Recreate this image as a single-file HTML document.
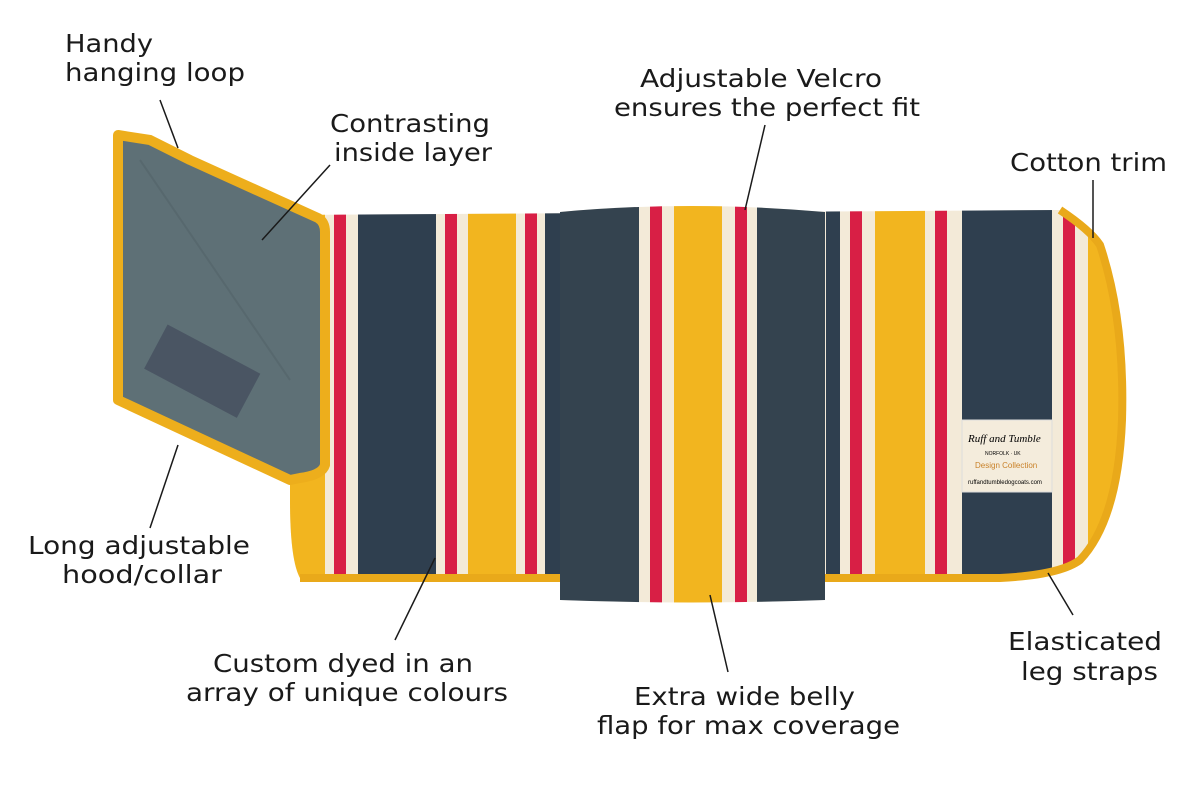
<!DOCTYPE html>
<html><head><meta charset="utf-8">
<style>
html,body{margin:0;padding:0;background:#fff;}
svg{display:block}
text.l{font-family:"DejaVu Sans",sans-serif;font-size:25px;fill:#1a1a1a}
</style></head>
<body>
<svg width="1200" height="793" viewBox="0 0 1200 793" xmlns="http://www.w3.org/2000/svg">
<defs>
<clipPath id="body">
<path d="M290 215 L1060 210 Q1090 230 1100 245 Q1125 320 1122 420 Q1118 520 1080 560 Q1060 575 1000 578 L300 578 Q290 560 290 500 Z"/>
</clipPath>
<clipPath id="flap">
<path d="M560 212 Q690 200 825 212 L825 600 Q690 605 560 600 Z"/>
</clipPath>
</defs>
<g clip-path="url(#body)">
<rect x="280" y="200" width="860" height="400" fill="#f3ead8"/>
<rect x="280" y="200" width="45" height="400" fill="#f2b51f"/>
<rect x="334" y="200" width="12" height="400" fill="#d81f45"/>
<rect x="358" y="200" width="78" height="400" fill="#2f3f4f"/>
<rect x="445" y="200" width="12" height="400" fill="#d81f45"/>
<rect x="468" y="200" width="48" height="400" fill="#f2b51f"/>
<rect x="525" y="200" width="12" height="400" fill="#d81f45"/>
<rect x="545" y="200" width="20" height="400" fill="#2f3f4f"/>
<rect x="826" y="200" width="14" height="400" fill="#2f3f4f"/>
<rect x="850" y="200" width="12" height="400" fill="#d81f45"/>
<rect x="875" y="200" width="50" height="400" fill="#f2b51f"/>
<rect x="935" y="200" width="12" height="400" fill="#d81f45"/>
<rect x="962" y="200" width="90" height="400" fill="#2f3f4f"/>
<rect x="1063" y="200" width="12" height="400" fill="#d81f45"/>
<rect x="1088" y="200" width="40" height="400" fill="#f2b51f"/>
</g>
<path d="M1060 210 Q1090 230 1100 245 Q1125 320 1122 420 Q1118 520 1080 560 Q1060 575 1000 578 L300 578" fill="none" stroke="#e9a91a" stroke-width="8"/>
<g clip-path="url(#flap)">
<rect x="555" y="200" width="280" height="410" fill="#f3ead8"/>
<rect x="555" y="200" width="84" height="410" fill="#34434f"/>
<rect x="650" y="200" width="12" height="410" fill="#d81f45"/>
<rect x="674" y="200" width="48" height="410" fill="#f2b51f"/>
<rect x="735" y="200" width="12" height="410" fill="#d81f45"/>
<rect x="757" y="200" width="70" height="410" fill="#34434f"/>
</g>
<rect x="962" y="420" width="90" height="72" fill="#f4ecdc" stroke="#ddd" stroke-width="1"/>
<text x="968" y="442" style="font-size:11px;font-family:'Liberation Serif',serif;font-style:italic">Ruff and Tumble</text>
<text x="985" y="455" style="font-size:5px;font-family:'Liberation Sans',sans-serif">NORFOLK · UK</text>
<text x="975" y="468" style="font-size:8px;fill:#c9822a;font-family:'Liberation Sans',sans-serif">Design Collection</text>
<text x="968" y="484" style="font-size:6px;font-family:'Liberation Sans',sans-serif">ruffandtumbledogcoats.com</text>
<path d="M118 135 L150 140 L190 160 L318 218 Q325 222 325 232 L325 465 Q322 475 300 478 L290 480 L118 400 Z" fill="#5e7076" stroke="#edae1c" stroke-width="10" stroke-linejoin="round"/>
<path d="M140 160 L290 380" stroke="#536469" stroke-width="2" opacity="0.6"/>
<rect x="150" y="345" width="105" height="50" fill="#4a5563" transform="rotate(28 200 370)"/>
<g stroke="#1a1a1a" stroke-width="1.5" fill="none">
<line x1="160" y1="100" x2="178" y2="148"/>
<line x1="330" y1="165" x2="262" y2="240"/>
<line x1="765" y1="125" x2="745" y2="210"/>
<line x1="1093" y1="180" x2="1093" y2="238"/>
<line x1="178" y1="445" x2="150" y2="528"/>
<line x1="435" y1="558" x2="395" y2="640"/>
<line x1="710" y1="595" x2="728" y2="672"/>
<line x1="1048" y1="573" x2="1073" y2="615"/>
</g>
<g>
<text class="l" x="65" y="52" textLength="88" lengthAdjust="spacingAndGlyphs">Handy</text>
<text class="l" x="65" y="81" textLength="180" lengthAdjust="spacingAndGlyphs">hanging loop</text>
<text class="l" x="330" y="132" textLength="160" lengthAdjust="spacingAndGlyphs">Contrasting</text>
<text class="l" x="334" y="161" textLength="158" lengthAdjust="spacingAndGlyphs">inside layer</text>
<text class="l" x="640" y="87" textLength="242" lengthAdjust="spacingAndGlyphs">Adjustable Velcro</text>
<text class="l" x="614" y="116" textLength="306" lengthAdjust="spacingAndGlyphs">ensures the perfect fit</text>
<text class="l" x="1010" y="171" textLength="157" lengthAdjust="spacingAndGlyphs">Cotton trim</text>
<text class="l" x="28" y="554" textLength="222" lengthAdjust="spacingAndGlyphs">Long adjustable</text>
<text class="l" x="62" y="583" textLength="160" lengthAdjust="spacingAndGlyphs">hood/collar</text>
<text class="l" x="213" y="672" textLength="260" lengthAdjust="spacingAndGlyphs">Custom dyed in an</text>
<text class="l" x="186" y="701" textLength="322" lengthAdjust="spacingAndGlyphs">array of unique colours</text>
<text class="l" x="634" y="705" textLength="221" lengthAdjust="spacingAndGlyphs">Extra wide belly</text>
<text class="l" x="597" y="734" textLength="303" lengthAdjust="spacingAndGlyphs">flap for max coverage</text>
<text class="l" x="1008" y="650" textLength="154" lengthAdjust="spacingAndGlyphs">Elasticated</text>
<text class="l" x="1021" y="680" textLength="137" lengthAdjust="spacingAndGlyphs">leg straps</text>
</g>
</svg>
</body></html>
